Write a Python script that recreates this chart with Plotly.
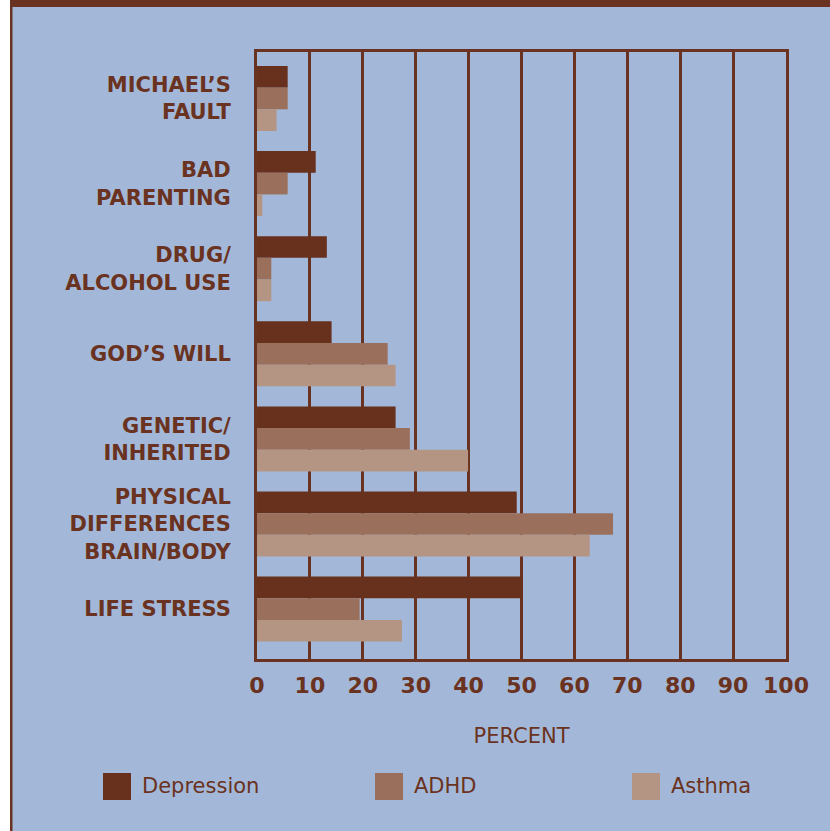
import plotly.graph_objects as go

categories = ["MICHAEL’S<br>FAULT", "BAD<br>PARENTING", "DRUG/<br>ALCOHOL USE", "GOD’S WILL",
              "GENETIC/<br>INHERITED", "PHYSICAL<br>DIFFERENCES<br>BRAIN/BODY", "LIFE STRESS"]
series_names = ["Depression", "ADHD", "Asthma"]
depression = [5.8, 11.1, 13.2, 14.1, 26.2, 49.1, 50.1]
adhd = [5.8, 5.8, 2.7, 24.7, 28.9, 67.3, 19.4]
asthma = [3.7, 1.0, 2.7, 26.2, 39.9, 62.9, 27.4]
tick_vals_x = [0, 10, 20, 30, 40, 50, 60, 70, 80, 90, 100]

colors = ["#67311E", "#9A705C", "#B49583"]
brown = "#6A3220"
bg = "#A3B8D8"

W, H = 830, 831
L, R, T, B = 257, 44, 52, 172
pw, ph = W - L - R, H - T - B


def px(xp):
    return (xp - L) / pw


def py(yp):
    return (H - B - yp) / ph


# category axis range chosen so groups sit where they do in the reference
unit = 85.1
first_center = 98.5
ymin = -(first_center - T) / unit
ymax = 6 + (H - B - (first_center + 6 * unit)) / unit

ypos = list(range(len(categories)))
fig = go.Figure()
for name, vals, c in zip(series_names, [depression, adhd, asthma], colors):
    fig.add_trace(go.Bar(y=ypos, x=vals, orientation="h", name=name,
                         marker=dict(color=c, line=dict(width=0)), showlegend=False))

shapes = [
    dict(type="rect", xref="paper", yref="paper", x0=px(0), x1=px(10), y0=py(0), y1=py(H),
         fillcolor="white", line=dict(width=0), layer="below"),
    dict(type="rect", xref="paper", yref="paper", x0=px(10), x1=px(12.5), y0=py(0), y1=py(H),
         fillcolor=brown, line=dict(width=0), layer="below"),
    dict(type="rect", xref="paper", yref="paper", x0=px(10), x1=px(W), y0=py(0), y1=py(7),
         fillcolor=brown, line=dict(width=0), layer="below"),
]
annotations = []
leg_x = [103, 375, 632]
for name, c, lx in zip(series_names, colors, leg_x):
    shapes.append(dict(type="rect", xref="paper", yref="paper", x0=px(lx), x1=px(lx + 28),
                       y0=py(773), y1=py(800), fillcolor=c, line=dict(width=0)))
    annotations.append(dict(text=name, xref="paper", yref="paper", x=px(lx + 37), y=py(786),
                            xanchor="left", yanchor="middle", showarrow=False,
                            font=dict(family="DejaVu Sans", size=21, color=brown)))

fig.update_layout(
    width=W, height=H, margin=dict(l=L, r=R, t=T, b=B),
    paper_bgcolor=bg, plot_bgcolor=bg,
    barmode="group", bargap=0.236, bargroupgap=0,
    shapes=shapes, annotations=annotations,
    xaxis=dict(range=[0, 100], tickvals=tick_vals_x, showgrid=True, gridcolor=brown, gridwidth=3,
               zeroline=False, showline=True, linecolor=brown, linewidth=3, mirror=True,
               ticks="outside", ticklen=5, tickcolor=bg, tickwidth=0.01,
               tickfont=dict(family="DejaVu Sans", size=22, color=brown, weight="bold"),
               title=dict(text="PERCENT", standoff=31,
                          font=dict(family="DejaVu Sans", size=21, color=brown))),
    yaxis=dict(range=[ymax, ymin], tickvals=ypos, ticktext=categories, showgrid=False,
               zeroline=False, showline=True, linecolor=brown, linewidth=3, mirror=True,
               ticks="outside", ticklen=19, tickcolor=bg, tickwidth=0.01,
               tickfont=dict(family="DejaVu Sans", size=21, color=brown, weight="bold")),
)

fig.write_html("out.html", config={"displayModeBar": False},
               post_script="document.body.style.margin='0';document.body.style.overflow='hidden';")
